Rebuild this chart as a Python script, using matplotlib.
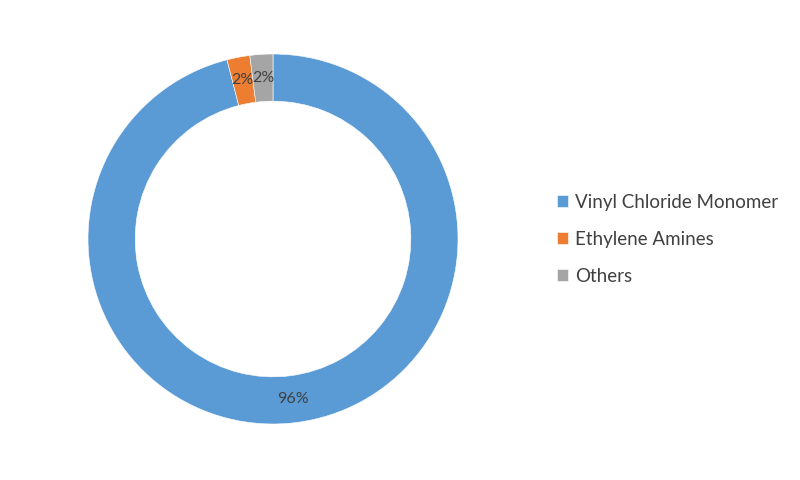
import matplotlib.pyplot as plt

labels = ["Vinyl Chloride Monomer", "Ethylene Amines", "Others"]
shares = [96, 2, 2]
colors = ["#5B9BD5", "#ED7D31", "#A5A5A5"]

plt.rcParams["font.family"] = ["Lato", "DejaVu Sans"]

fig = plt.figure(figsize=(8, 4.8), dpi=100)
ax = fig.add_axes([88 / 800, 56 / 480, 370 / 800, 370 / 480])

wedges, texts, autotexts = ax.pie(
    shares, colors=colors, startangle=90, counterclock=False,
    radius=1, autopct="%1.0f%%", pctdistance=0.873,
    wedgeprops=dict(width=0.255, edgecolor="white", linewidth=0.4),
    textprops=dict(color="#404040", fontsize=11.5),
)
ax.set_xlim(-1, 1)
ax.set_ylim(-1, 1)
ax.set_aspect("equal")

leg = fig.legend(
    wedges, labels, loc="upper left", bbox_to_anchor=(540 / 800, 1 - 177 / 480),
    frameon=False, fontsize=13.5, handlelength=0.6, handleheight=0.6,
    handletextpad=0.35, labelspacing=1.07, labelcolor="#404040",
)

fig.savefig("out.png", dpi=100, facecolor="white")
